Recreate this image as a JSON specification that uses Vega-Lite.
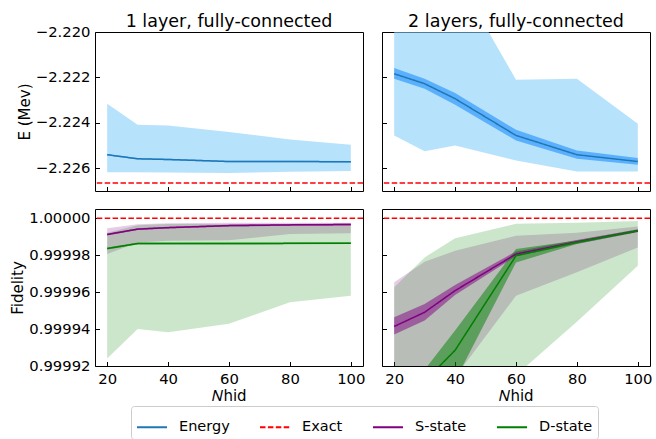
{
  "$schema": "https://vega.github.io/schema/vega-lite/v6.json",
  "background": "white",
  "padding": {"left": 10, "top": 12, "right": 5, "bottom": 5},
  "datasets": {
    "energy1": [
      {"n": 20, "series": "Energy", "mean": -2.22541, "lo": -2.22618, "hi": -2.22316, "ilo": -2.22544, "ihi": -2.22538},
      {"n": 30, "series": "Energy", "mean": -2.22559, "lo": -2.22618, "hi": -2.22409, "ilo": -2.22562, "ihi": -2.22556},
      {"n": 40, "series": "Energy", "mean": -2.22562, "lo": -2.22619, "hi": -2.22412, "ilo": -2.22565, "ihi": -2.22559},
      {"n": 60, "series": "Energy", "mean": -2.22571, "lo": -2.22622, "hi": -2.22441, "ilo": -2.22574, "ihi": -2.22568},
      {"n": 80, "series": "Energy", "mean": -2.22571, "lo": -2.22616, "hi": -2.22474, "ilo": -2.22574, "ihi": -2.22568},
      {"n": 100, "series": "Energy", "mean": -2.22572, "lo": -2.22613, "hi": -2.22497, "ilo": -2.22575, "ihi": -2.22569}
    ],
    "energy2": [
      {"n": 20, "series": "Energy", "mean": -2.22184, "lo": -2.22456, "hi": -2.2185, "ilo": -2.22206, "ihi": -2.22159},
      {"n": 30, "series": "Energy", "mean": -2.22228, "lo": -2.22526, "hi": -2.2180, "ilo": -2.2225, "ihi": -2.22206},
      {"n": 40, "series": "Energy", "mean": -2.22294, "lo": -2.225, "hi": -2.21743, "ilo": -2.22321, "ihi": -2.22269},
      {"n": 60, "series": "Energy", "mean": -2.22456, "lo": -2.22566, "hi": -2.2221, "ilo": -2.22478, "ihi": -2.22431},
      {"n": 80, "series": "Energy", "mean": -2.22541, "lo": -2.22615, "hi": -2.22206, "ilo": -2.22559, "ihi": -2.22522},
      {"n": 100, "series": "Energy", "mean": -2.22571, "lo": -2.22615, "hi": -2.22404, "ilo": -2.22585, "ihi": -2.22556}
    ],
    "fid1": [
      {"n": 20, "series": "S-state", "mean": 0.9999912, "lo": 0.9999806, "hi": 0.9999946, "ilo": 0.9999907, "ihi": 0.9999917},
      {"n": 30, "series": "S-state", "mean": 0.9999941, "lo": 0.9999868, "hi": 0.9999968, "ilo": 0.9999936, "ihi": 0.9999946},
      {"n": 40, "series": "S-state", "mean": 0.9999949, "lo": 0.9999878, "hi": 0.9999973, "ilo": 0.9999944, "ihi": 0.9999954},
      {"n": 60, "series": "S-state", "mean": 0.999996, "lo": 0.9999881, "hi": 0.9999975, "ilo": 0.9999955, "ihi": 0.9999965},
      {"n": 80, "series": "S-state", "mean": 0.9999964, "lo": 0.9999914, "hi": 0.9999975, "ilo": 0.9999959, "ihi": 0.9999969},
      {"n": 100, "series": "S-state", "mean": 0.9999966, "lo": 0.9999919, "hi": 0.9999975, "ilo": 0.9999961, "ihi": 0.9999971},
      {"n": 20, "series": "D-state", "mean": 0.9999836, "lo": 0.999924, "hi": 0.9999921, "ilo": 0.9999831, "ihi": 0.9999841},
      {"n": 30, "series": "D-state", "mean": 0.9999863, "lo": 0.99994, "hi": 0.9999962, "ilo": 0.9999858, "ihi": 0.9999868},
      {"n": 40, "series": "D-state", "mean": 0.9999863, "lo": 0.9999383, "hi": 0.9999969, "ilo": 0.9999858, "ihi": 0.9999868},
      {"n": 60, "series": "D-state", "mean": 0.9999863, "lo": 0.9999429, "hi": 0.9999969, "ilo": 0.9999858, "ihi": 0.9999868},
      {"n": 80, "series": "D-state", "mean": 0.9999864, "lo": 0.9999545, "hi": 0.9999969, "ilo": 0.9999859, "ihi": 0.9999869},
      {"n": 100, "series": "D-state", "mean": 0.9999865, "lo": 0.9999581, "hi": 0.9999969, "ilo": 0.999986, "ihi": 0.999987}
    ],
    "fid2": [
      {"n": 20, "series": "S-state", "mean": 0.9999414, "lo": 0.9998, "hi": 0.9999653, "ilo": 0.9999371, "ihi": 0.9999464},
      {"n": 30, "series": "S-state", "mean": 0.9999491, "lo": 0.99985, "hi": 0.9999764, "ilo": 0.9999446, "ihi": 0.9999536},
      {"n": 40, "series": "S-state", "mean": 0.9999608, "lo": 0.999914, "hi": 0.9999824, "ilo": 0.9999585, "ihi": 0.9999639},
      {"n": 60, "series": "S-state", "mean": 0.9999806, "lo": 0.999958, "hi": 0.9999905, "ilo": 0.9999794, "ihi": 0.999982},
      {"n": 80, "series": "S-state", "mean": 0.9999872, "lo": 0.9999707, "hi": 0.9999922, "ilo": 0.9999862, "ihi": 0.9999882},
      {"n": 100, "series": "S-state", "mean": 0.9999932, "lo": 0.9999842, "hi": 0.9999955, "ilo": 0.9999925, "ihi": 0.9999939},
      {"n": 20, "series": "D-state", "mean": 0.99989, "lo": 0.99975, "hi": 0.9999626, "ilo": 0.99987, "ihi": 0.99991},
      {"n": 30, "series": "D-state", "mean": 0.9999118, "lo": 0.9998, "hi": 0.9999788, "ilo": 0.999901, "ihi": 0.999918},
      {"n": 40, "series": "D-state", "mean": 0.9999285, "lo": 0.99985, "hi": 0.9999892, "ilo": 0.999912, "ihi": 0.9999392},
      {"n": 60, "series": "D-state", "mean": 0.9999797, "lo": 0.999915, "hi": 0.999997, "ilo": 0.9999761, "ihi": 0.9999833},
      {"n": 80, "series": "D-state", "mean": 0.999987, "lo": 0.999944, "hi": 0.9999975, "ilo": 0.999986, "ihi": 0.999988},
      {"n": 100, "series": "D-state", "mean": 0.9999932, "lo": 0.9999743, "hi": 0.9999985, "ilo": 0.9999925, "ihi": 0.999994}
    ],
    "exactE": [{"series": "Exact", "v": -2.22666}],
    "exactF": [{"series": "Exact", "v": 1.0}]
  },
  "columns": 2,
  "spacing": {"row": 16, "column": 14},
  "concat": [
    {
      "width": 268, "height": 159,
      "title": {"text": "1 layer, fully-connected", "offset": -6.5},
      "layer": [
        {
          "data": {"name": "energy1"},
          "mark": {"type": "area", "color": "#87cefa", "opacity": 0.6, "clip": true},
          "encoding": {
            "x": {"field": "n", "type": "quantitative", "scale": {"domain": [16, 104], "nice": false, "zero": false},
                  "axis": {"values": [20, 40, 60, 80, 100], "tickCount": 10, "labels": false, "title": null}},
            "y": {"field": "lo", "type": "quantitative", "scale": {"domain": [-2.22701, -2.22], "nice": false, "zero": false},
                  "axis": {"values": [-2.226, -2.224, -2.222, -2.22], "tickCount": 10, "format": ".3f", "title": "E (Mev)", "titlePadding": 3, "labelOverlap": false}},
            "y2": {"field": "hi"}
          }
        },
        {
          "data": {"name": "energy1"},
          "mark": {"type": "area", "color": "#1e90ff", "opacity": 0.6, "clip": true},
          "encoding": {"x": {"field": "n", "type": "quantitative"}, "y": {"field": "ilo", "type": "quantitative"}, "y2": {"field": "ihi"}}
        },
        {
          "data": {"name": "energy1"},
          "mark": {"type": "line", "strokeWidth": 1.5, "clip": true},
          "encoding": {"x": {"field": "n", "type": "quantitative"}, "y": {"field": "mean", "type": "quantitative"},
            "color": {"field": "series", "type": "nominal",
              "scale": {"domain": ["Energy", "Exact", "S-state", "D-state"], "range": ["#1f77b4", "#ff0000", "#800080", "#008000"]},
              "legend": {"orient": "none", "legendX": 36, "legendY": 374, "direction": "horizontal", "title": null,
                "symbolType": "stroke", "symbolSize": 900, "symbolStrokeWidth": 2, "labelOffset": 11,
                "columnPadding": 26, "padding": 5, "labelFontSize": 14.5, "labelColor": "black", "strokeColor": "#cccccc", "fillColor": "white", "cornerRadius": 3}},
            "strokeDash": {"field": "series", "type": "nominal",
              "scale": {"domain": ["Energy", "Exact", "S-state", "D-state"], "range": [[1, 0], [5.5, 2.4], [1, 0], [1, 0]]},
              "legend": {"orient": "none", "legendX": 36, "legendY": 374, "direction": "horizontal", "title": null,
                "symbolType": "stroke", "symbolSize": 900, "symbolStrokeWidth": 2, "labelOffset": 11,
                "columnPadding": 26, "padding": 5, "labelFontSize": 14.5, "labelColor": "black", "strokeColor": "#cccccc", "fillColor": "white", "cornerRadius": 3}}}
        },
        {
          "data": {"name": "exactE"},
          "mark": {"type": "rule", "strokeWidth": 1.5},
          "encoding": {"y": {"field": "v", "type": "quantitative"}, "color": {"field": "series", "type": "nominal"}, "strokeDash": {"field": "series", "type": "nominal"}}
        }
      ]
    },
    {
      "width": 268, "height": 159,
      "title": {"text": "2 layers, fully-connected", "offset": 1.5},
      "layer": [
        {
          "data": {"name": "energy2"},
          "mark": {"type": "area", "color": "#87cefa", "opacity": 0.6, "clip": true},
          "encoding": {
            "x": {"field": "n", "type": "quantitative", "scale": {"domain": [16, 104], "nice": false, "zero": false},
                  "axis": {"values": [20, 40, 60, 80, 100], "tickCount": 10, "labels": false, "title": null}},
            "y": {"field": "lo", "type": "quantitative", "scale": {"domain": [-2.22701, -2.22], "nice": false, "zero": false},
                  "axis": {"values": [-2.226, -2.224, -2.222, -2.22], "tickCount": 10, "labels": false, "title": null}},
            "y2": {"field": "hi"}
          }
        },
        {
          "data": {"name": "energy2"},
          "mark": {"type": "area", "color": "#1e90ff", "opacity": 0.6, "clip": true},
          "encoding": {"x": {"field": "n", "type": "quantitative"}, "y": {"field": "ilo", "type": "quantitative"}, "y2": {"field": "ihi"}}
        },
        {
          "data": {"name": "energy2"},
          "mark": {"type": "line", "strokeWidth": 1.5, "clip": true},
          "encoding": {"x": {"field": "n", "type": "quantitative"}, "y": {"field": "mean", "type": "quantitative"},
            "color": {"field": "series", "type": "nominal"}, "strokeDash": {"field": "series", "type": "nominal"}}
        },
        {
          "data": {"name": "exactE"},
          "mark": {"type": "rule", "strokeWidth": 1.5},
          "encoding": {"y": {"field": "v", "type": "quantitative"}, "color": {"field": "series", "type": "nominal"}, "strokeDash": {"field": "series", "type": "nominal"}}
        }
      ]
    },
    {
      "width": 268, "height": 157,
      "layer": [
        {
          "data": {"name": "fid1"},
          "mark": {"type": "area", "opacity": 0.2, "clip": true},
          "encoding": {
            "x": {"field": "n", "type": "quantitative", "scale": {"domain": [16, 104], "nice": false, "zero": false},
                  "axis": {"values": [20, 40, 60, 80, 100], "tickCount": 10, "format": "d", "title": "𝑁hid", "titlePadding": 3}},
            "y": {"field": "lo", "type": "quantitative", "scale": {"domain": [0.99992, 1.000005], "nice": false, "zero": false},
                  "axis": {"values": [0.99992, 0.99994, 0.99996, 0.99998, 1.0], "tickCount": 10, "format": ".5f", "title": "Fidelity", "titlePadding": 3, "labelOverlap": false}},
            "y2": {"field": "hi"},
            "fill": {"field": "series", "type": "nominal", "scale": {"domain": ["S-state", "D-state"], "range": ["#800080", "#008000"]}, "legend": null}
          }
        },
        {
          "data": {"name": "fid1"},
          "mark": {"type": "area", "opacity": 0.5, "clip": true},
          "encoding": {"x": {"field": "n", "type": "quantitative"}, "y": {"field": "ilo", "type": "quantitative"}, "y2": {"field": "ihi"},
            "fill": {"field": "series", "type": "nominal", "legend": null}}
        },
        {
          "data": {"name": "fid1"},
          "mark": {"type": "line", "strokeWidth": 1.5, "clip": true},
          "encoding": {"x": {"field": "n", "type": "quantitative"}, "y": {"field": "mean", "type": "quantitative"},
            "color": {"field": "series", "type": "nominal"}, "strokeDash": {"field": "series", "type": "nominal"}}
        },
        {
          "data": {"name": "exactF"},
          "mark": {"type": "rule", "strokeWidth": 1.5},
          "encoding": {"y": {"field": "v", "type": "quantitative"}, "color": {"field": "series", "type": "nominal"}, "strokeDash": {"field": "series", "type": "nominal"}}
        }
      ]
    },
    {
      "width": 268, "height": 157,
      "layer": [
        {
          "data": {"name": "fid2"},
          "mark": {"type": "area", "opacity": 0.2, "clip": true},
          "encoding": {
            "x": {"field": "n", "type": "quantitative", "scale": {"domain": [16, 104], "nice": false, "zero": false},
                  "axis": {"values": [20, 40, 60, 80, 100], "tickCount": 10, "format": "d", "title": "𝑁hid", "titlePadding": 3}},
            "y": {"field": "lo", "type": "quantitative", "scale": {"domain": [0.99992, 1.000005], "nice": false, "zero": false},
                  "axis": {"values": [0.99992, 0.99994, 0.99996, 0.99998, 1.0], "tickCount": 10, "labels": false, "title": null}},
            "y2": {"field": "hi"},
            "fill": {"field": "series", "type": "nominal", "legend": null}
          }
        },
        {
          "data": {"name": "fid2"},
          "mark": {"type": "area", "opacity": 0.5, "clip": true},
          "encoding": {"x": {"field": "n", "type": "quantitative"}, "y": {"field": "ilo", "type": "quantitative"}, "y2": {"field": "ihi"},
            "fill": {"field": "series", "type": "nominal", "legend": null}}
        },
        {
          "data": {"name": "fid2"},
          "mark": {"type": "line", "strokeWidth": 1.5, "clip": true},
          "encoding": {"x": {"field": "n", "type": "quantitative"}, "y": {"field": "mean", "type": "quantitative"},
            "color": {"field": "series", "type": "nominal"}, "strokeDash": {"field": "series", "type": "nominal"}}
        },
        {
          "data": {"name": "exactF"},
          "mark": {"type": "rule", "strokeWidth": 1.5},
          "encoding": {"y": {"field": "v", "type": "quantitative"}, "color": {"field": "series", "type": "nominal"}, "strokeDash": {"field": "series", "type": "nominal"}}
        }
      ]
    }
  ],
  "config": {
    "font": "DejaVu Sans",
    "view": {"stroke": "black", "strokeWidth": 1},
    "title": {"fontSize": 17.5, "fontWeight": "normal", "color": "black", "anchor": "middle", "frame": "group"},
    "axis": {"domain": false, "grid": false, "labelFontSize": 14.8, "labelColor": "black", "titleFontSize": 15, "titleFontWeight": "normal", "titleColor": "black",
             "tickColor": "black", "tickWidth": 1, "tickSize": -4.5, "labelPadding": 9.5, "labelOverlap": false, "labelBound": false, "labelFlush": false, "zindex": 1}
  }
}
